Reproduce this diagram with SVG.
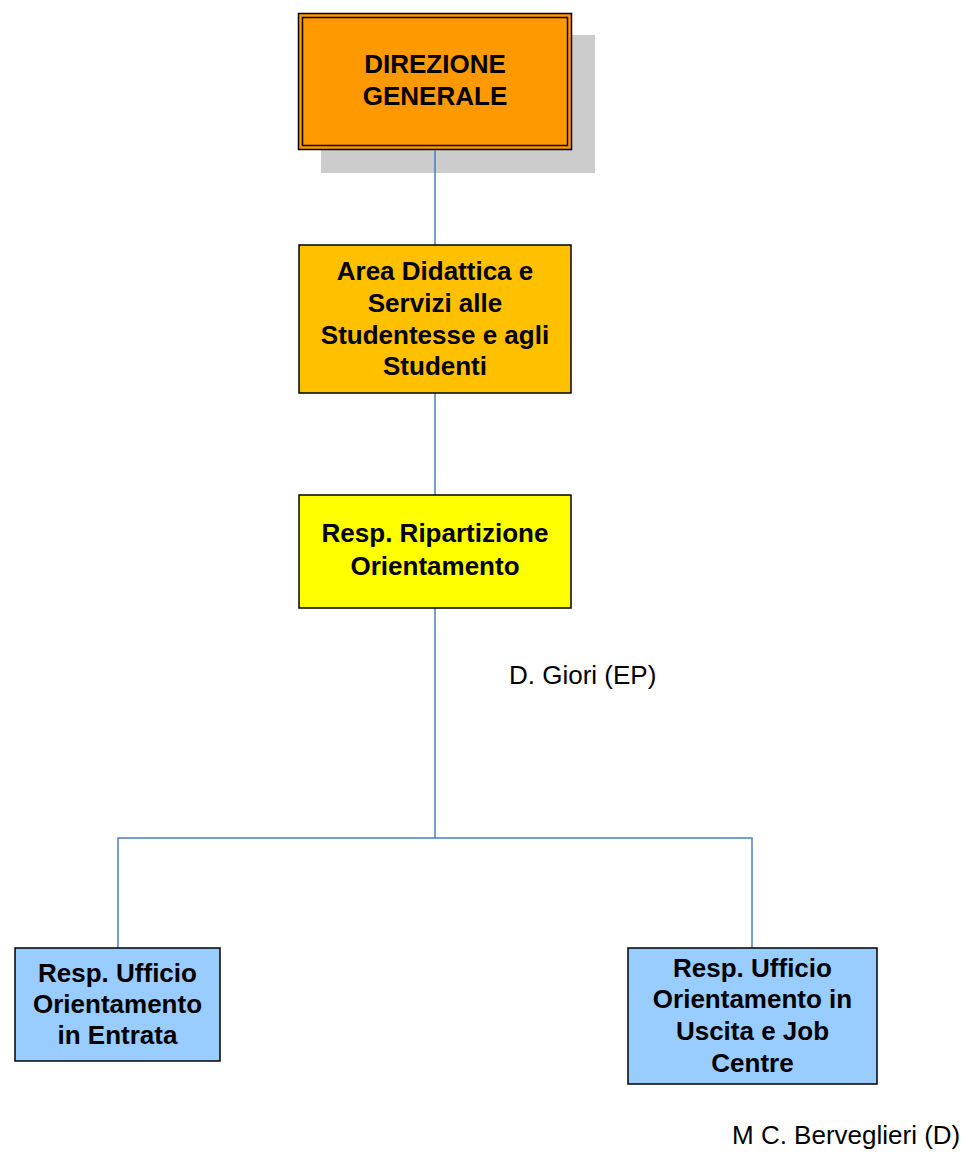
<svg xmlns="http://www.w3.org/2000/svg" width="971" height="1159" viewBox="0 0 971 1159">
<style>
.box{stroke:#000;stroke-width:1.5}
.t{font-family:"Liberation Sans",Arial,sans-serif;font-weight:bold;font-size:26px;text-anchor:middle;fill:#000}
.n{font-family:"Liberation Sans",Arial,sans-serif;font-size:26px;fill:#000}
.c{stroke:#4A7EBB;stroke-width:1.5;fill:none}
</style>
<rect width="971" height="1159" fill="#fff"/>
<g id="n1">
<rect x="321" y="35" width="274" height="138" fill="#CCCCCC"/>
<rect class="box" x="298.5" y="13.5" width="273" height="136" fill="#FF9900"/>
<rect x="302.5" y="17.5" width="265" height="128" fill="none" stroke="#000" stroke-width="1.5"/>
<text class="t" x="435" y="73">DIREZIONE</text>
<text class="t" x="435" y="105">GENERALE</text>
</g>
<g id="connectors">
<line class="c" x1="435" y1="150" x2="435" y2="245"/>
<line class="c" x1="435" y1="393" x2="435" y2="495"/>
<line class="c" x1="435" y1="608" x2="435" y2="838"/>
<polyline class="c" points="118,948 118,838 752,838 752,948"/>
</g>
<g id="n2">
<rect class="box" x="299" y="245" width="272" height="148" fill="#FFC000"/>
<text class="t" x="435" y="280">Area Didattica e</text>
<text class="t" x="435" y="312">Servizi alle</text>
<text class="t" x="435" y="344">Studentesse e agli</text>
<text class="t" x="435" y="375">Studenti</text>
</g>
<g id="n3">
<rect class="box" x="299" y="495" width="272" height="113" fill="#FFFF00"/>
<text class="t" x="435" y="542">Resp. Ripartizione</text>
<text class="t" x="435" y="575">Orientamento</text>
</g>
<g id="n4">
<rect class="box" x="15" y="948" width="205" height="113" fill="#99CCFF"/>
<text class="t" x="117.5" y="982">Resp. Ufficio</text>
<text class="t" x="117.5" y="1013">Orientamento</text>
<text class="t" x="117.5" y="1044">in Entrata</text>
</g>
<g id="n5">
<rect class="box" x="628" y="948" width="249" height="136" fill="#99CCFF"/>
<text class="t" x="752.5" y="977">Resp. Ufficio</text>
<text class="t" x="752.5" y="1008">Orientamento in</text>
<text class="t" x="752.5" y="1040">Uscita e Job</text>
<text class="t" x="752.5" y="1072">Centre</text>
</g>
<text class="n" x="509" y="684">D. Giori (EP)</text>
<text class="n" x="732" y="1144">M C. Berveglieri (D)</text>
</svg>
